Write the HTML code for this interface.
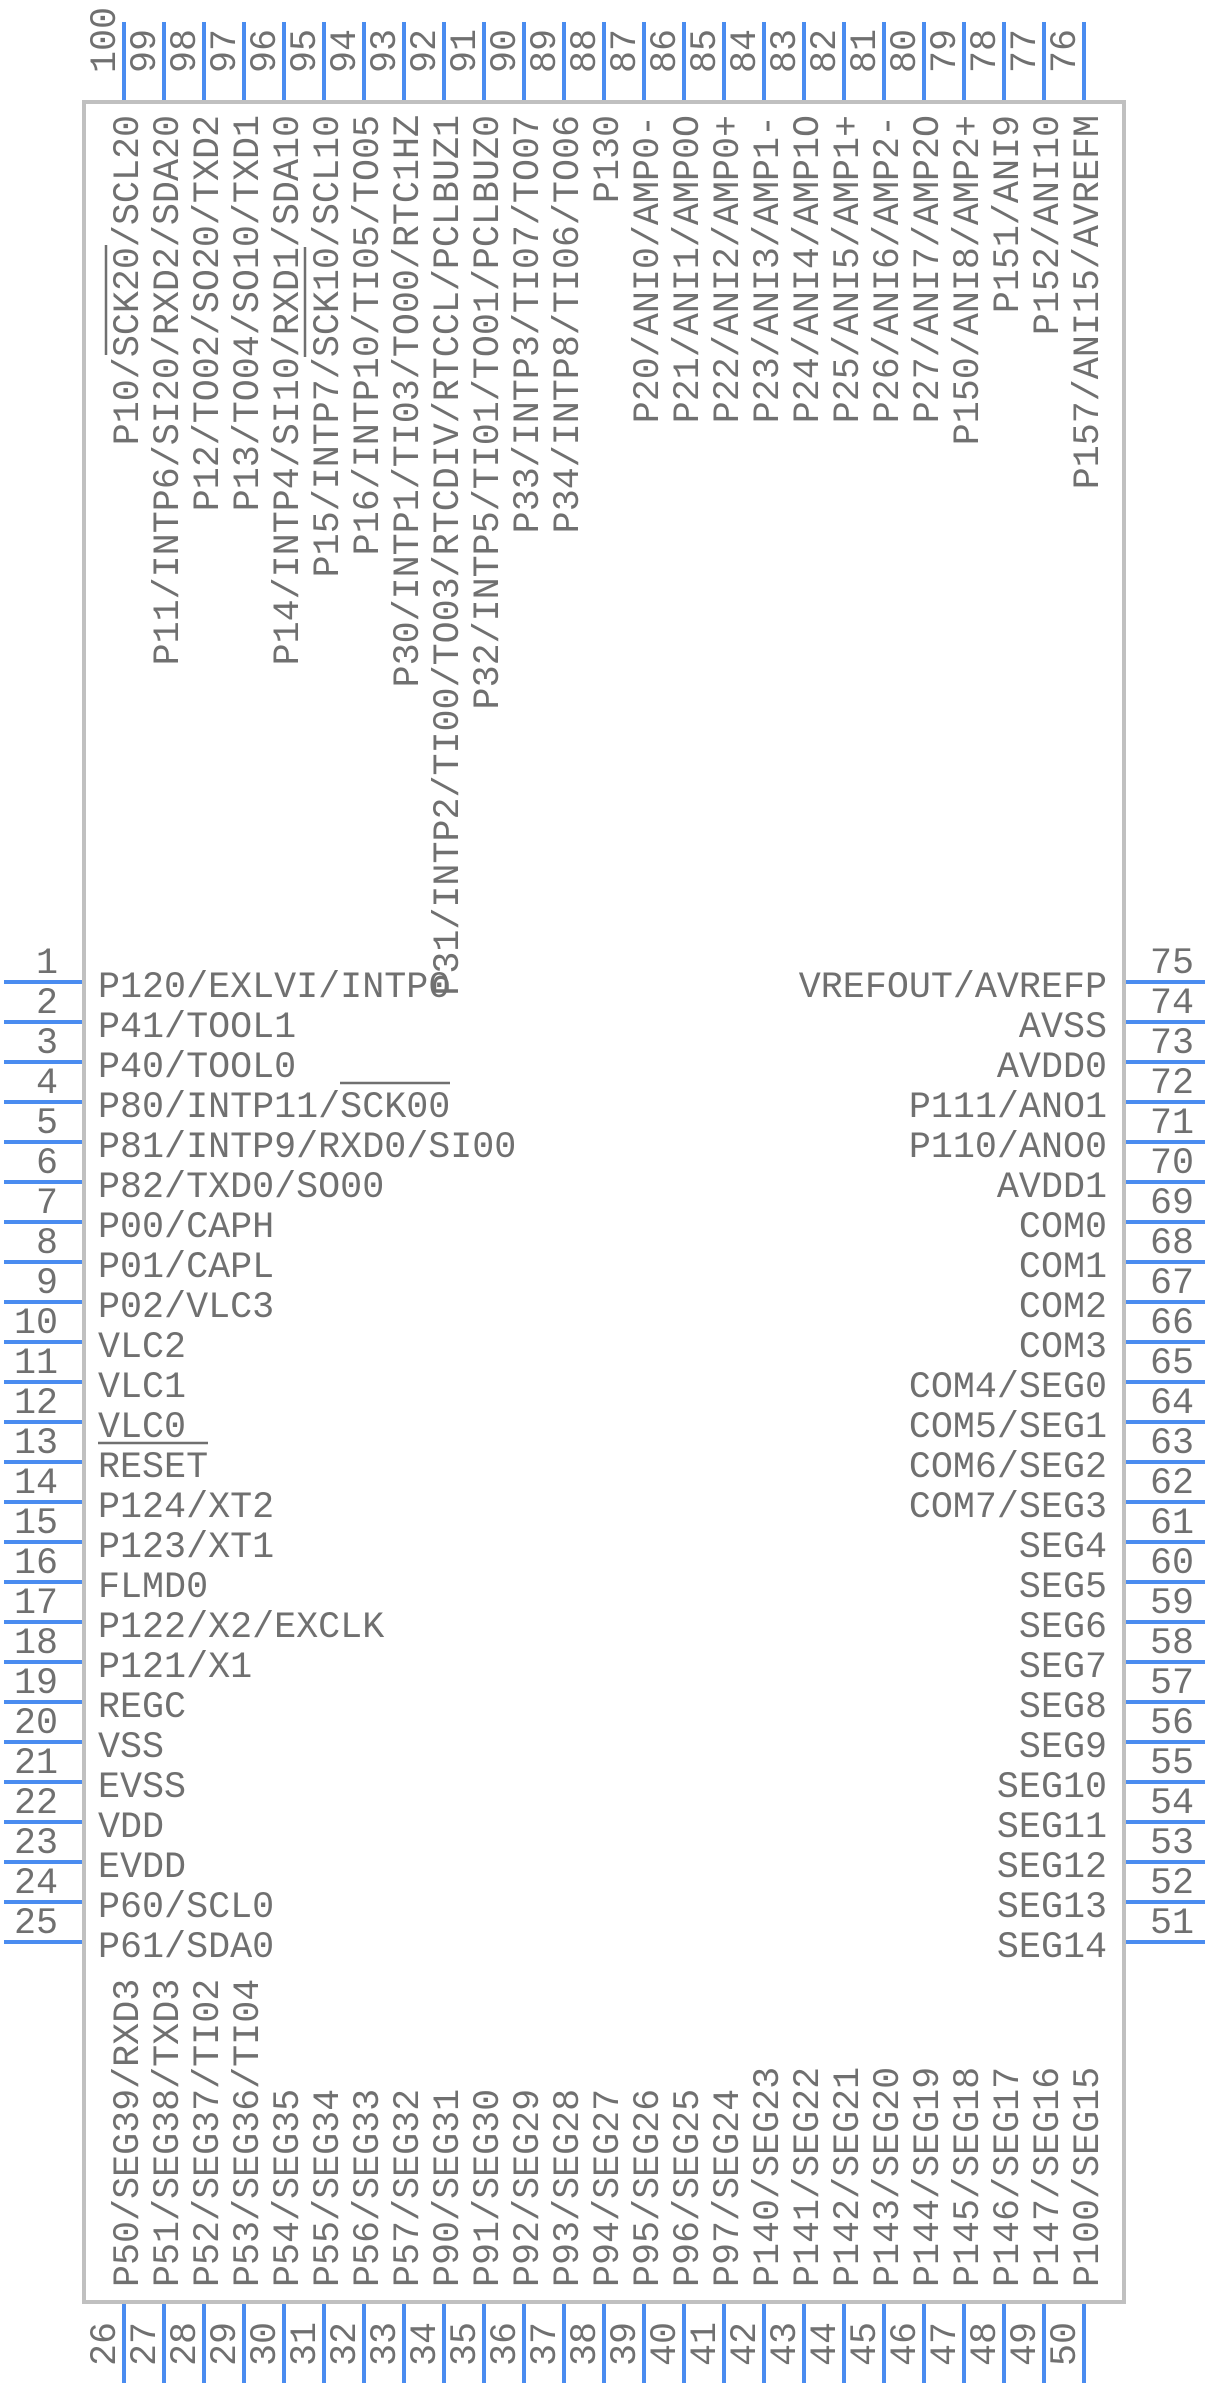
<!DOCTYPE html>
<html><head><meta charset="utf-8"><style>
html,body{margin:0;padding:0;background:#fff}
svg{display:block}
text{font-family:"Liberation Mono",monospace;font-size:36.7px;fill:#707070}
.e{text-anchor:end}
</style></head><body>
<svg width="1208" height="2386" viewBox="0 0 1208 2386" xmlns="http://www.w3.org/2000/svg">
<rect x="84" y="102" width="1040" height="2200" fill="none" stroke="#c0c0c0" stroke-width="4"/>
<g stroke="#4a8cf0" stroke-width="4" fill="none">
<path d="M4 982H82M4 1022H82M4 1062H82M4 1102H82M4 1142H82M4 1182H82M4 1222H82M4 1262H82M4 1302H82M4 1342H82M4 1382H82M4 1422H82M4 1462H82M4 1502H82M4 1542H82M4 1582H82M4 1622H82M4 1662H82M4 1702H82M4 1742H82M4 1782H82M4 1822H82M4 1862H82M4 1902H82M4 1942H82"/>
<path d="M1126 982H1205M1126 1022H1205M1126 1062H1205M1126 1102H1205M1126 1142H1205M1126 1182H1205M1126 1222H1205M1126 1262H1205M1126 1302H1205M1126 1342H1205M1126 1382H1205M1126 1422H1205M1126 1462H1205M1126 1502H1205M1126 1542H1205M1126 1582H1205M1126 1622H1205M1126 1662H1205M1126 1702H1205M1126 1742H1205M1126 1782H1205M1126 1822H1205M1126 1862H1205M1126 1902H1205M1126 1942H1205"/>
<path d="M124 22V100M164 22V100M204 22V100M244 22V100M284 22V100M324 22V100M364 22V100M404 22V100M444 22V100M484 22V100M524 22V100M564 22V100M604 22V100M644 22V100M684 22V100M724 22V100M764 22V100M804 22V100M844 22V100M884 22V100M924 22V100M964 22V100M1004 22V100M1044 22V100M1084 22V100"/>
<path d="M124 2304V2383M164 2304V2383M204 2304V2383M244 2304V2383M284 2304V2383M324 2304V2383M364 2304V2383M404 2304V2383M444 2304V2383M484 2304V2383M524 2304V2383M564 2304V2383M604 2304V2383M644 2304V2383M684 2304V2383M724 2304V2383M764 2304V2383M804 2304V2383M844 2304V2383M884 2304V2383M924 2304V2383M964 2304V2383M1004 2304V2383M1044 2304V2383M1084 2304V2383"/>
</g>
<g stroke="#707070" stroke-width="2.5">
<path d="M340 1083H450M98 1443H208M106 245V355M305 247V357"/>
</g>
<!-- left labels -->
<text x="98" y="997">P120/EXLVI/INTP0</text>
<text x="98" y="1037">P41/TOOL1</text>
<text x="98" y="1077">P40/TOOL0</text>
<text x="98" y="1117">P80/INTP11/SCK00</text>
<text x="98" y="1157">P81/INTP9/RXD0/SI00</text>
<text x="98" y="1197">P82/TXD0/SO00</text>
<text x="98" y="1237">P00/CAPH</text>
<text x="98" y="1277">P01/CAPL</text>
<text x="98" y="1317">P02/VLC3</text>
<text x="98" y="1357">VLC2</text>
<text x="98" y="1397">VLC1</text>
<text x="98" y="1437">VLC0</text>
<text x="98" y="1477">RESET</text>
<text x="98" y="1517">P124/XT2</text>
<text x="98" y="1557">P123/XT1</text>
<text x="98" y="1597">FLMD0</text>
<text x="98" y="1637">P122/X2/EXCLK</text>
<text x="98" y="1677">P121/X1</text>
<text x="98" y="1717">REGC</text>
<text x="98" y="1757">VSS</text>
<text x="98" y="1797">EVSS</text>
<text x="98" y="1837">VDD</text>
<text x="98" y="1877">EVDD</text>
<text x="98" y="1917">P60/SCL0</text>
<text x="98" y="1957">P61/SDA0</text>
<g class="e">
<text class="e" x="58" y="973">1</text><text class="e" x="58" y="1013">2</text><text class="e" x="58" y="1053">3</text><text class="e" x="58" y="1093">4</text><text class="e" x="58" y="1133">5</text><text class="e" x="58" y="1173">6</text><text class="e" x="58" y="1213">7</text><text class="e" x="58" y="1253">8</text><text class="e" x="58" y="1293">9</text><text class="e" x="58" y="1333">10</text><text class="e" x="58" y="1373">11</text><text class="e" x="58" y="1413">12</text><text class="e" x="58" y="1453">13</text><text class="e" x="58" y="1493">14</text><text class="e" x="58" y="1533">15</text><text class="e" x="58" y="1573">16</text><text class="e" x="58" y="1613">17</text><text class="e" x="58" y="1653">18</text><text class="e" x="58" y="1693">19</text><text class="e" x="58" y="1733">20</text><text class="e" x="58" y="1773">21</text><text class="e" x="58" y="1813">22</text><text class="e" x="58" y="1853">23</text><text class="e" x="58" y="1893">24</text><text class="e" x="58" y="1933">25</text>
</g>
<!-- right labels -->
<text class="e" x="1107" y="997">VREFOUT/AVREFP</text>
<text class="e" x="1107" y="1037">AVSS</text>
<text class="e" x="1107" y="1077">AVDD0</text>
<text class="e" x="1107" y="1117">P111/ANO1</text>
<text class="e" x="1107" y="1157">P110/ANO0</text>
<text class="e" x="1107" y="1197">AVDD1</text>
<text class="e" x="1107" y="1237">COM0</text>
<text class="e" x="1107" y="1277">COM1</text>
<text class="e" x="1107" y="1317">COM2</text>
<text class="e" x="1107" y="1357">COM3</text>
<text class="e" x="1107" y="1397">COM4/SEG0</text>
<text class="e" x="1107" y="1437">COM5/SEG1</text>
<text class="e" x="1107" y="1477">COM6/SEG2</text>
<text class="e" x="1107" y="1517">COM7/SEG3</text>
<text class="e" x="1107" y="1557">SEG4</text>
<text class="e" x="1107" y="1597">SEG5</text>
<text class="e" x="1107" y="1637">SEG6</text>
<text class="e" x="1107" y="1677">SEG7</text>
<text class="e" x="1107" y="1717">SEG8</text>
<text class="e" x="1107" y="1757">SEG9</text>
<text class="e" x="1107" y="1797">SEG10</text>
<text class="e" x="1107" y="1837">SEG11</text>
<text class="e" x="1107" y="1877">SEG12</text>
<text class="e" x="1107" y="1917">SEG13</text>
<text class="e" x="1107" y="1957">SEG14</text>
<text x="1150" y="973">75</text><text x="1150" y="1013">74</text><text x="1150" y="1053">73</text><text x="1150" y="1093">72</text><text x="1150" y="1133">71</text><text x="1150" y="1173">70</text><text x="1150" y="1213">69</text><text x="1150" y="1253">68</text><text x="1150" y="1293">67</text><text x="1150" y="1333">66</text><text x="1150" y="1373">65</text><text x="1150" y="1413">64</text><text x="1150" y="1453">63</text><text x="1150" y="1493">62</text><text x="1150" y="1533">61</text><text x="1150" y="1573">60</text><text x="1150" y="1613">59</text><text x="1150" y="1653">58</text><text x="1150" y="1693">57</text><text x="1150" y="1733">56</text><text x="1150" y="1773">55</text><text x="1150" y="1813">54</text><text x="1150" y="1853">53</text><text x="1150" y="1893">52</text><text x="1150" y="1933">51</text>
<!-- top labels -->
<text class="e" transform="translate(138,115) rotate(-90)">P10/SCK20/SCL20</text>
<text class="e" transform="translate(178,115) rotate(-90)">P11/INTP6/SI20/RXD2/SDA20</text>
<text class="e" transform="translate(218,115) rotate(-90)">P12/TO02/SO20/TXD2</text>
<text class="e" transform="translate(258,115) rotate(-90)">P13/TO04/SO10/TXD1</text>
<text class="e" transform="translate(298,115) rotate(-90)">P14/INTP4/SI10/RXD1/SDA10</text>
<text class="e" transform="translate(338,115) rotate(-90)">P15/INTP7/SCK10/SCL10</text>
<text class="e" transform="translate(378,115) rotate(-90)">P16/INTP10/TI05/TO05</text>
<text class="e" transform="translate(418,115) rotate(-90)">P30/INTP1/TI03/TO00/RTC1HZ</text>
<text class="e" transform="translate(458,115) rotate(-90)">P31/INTP2/TI00/TO03/RTCDIV/RTCCL/PCLBUZ1</text>
<text class="e" transform="translate(498,115) rotate(-90)">P32/INTP5/TI01/TO01/PCLBUZ0</text>
<text class="e" transform="translate(538,115) rotate(-90)">P33/INTP3/TI07/TO07</text>
<text class="e" transform="translate(578,115) rotate(-90)">P34/INTP8/TI06/TO06</text>
<text class="e" transform="translate(618,115) rotate(-90)">P130</text>
<text class="e" transform="translate(658,115) rotate(-90)">P20/ANI0/AMP0-</text>
<text class="e" transform="translate(698,115) rotate(-90)">P21/ANI1/AMP0O</text>
<text class="e" transform="translate(738,115) rotate(-90)">P22/ANI2/AMP0+</text>
<text class="e" transform="translate(778,115) rotate(-90)">P23/ANI3/AMP1-</text>
<text class="e" transform="translate(818,115) rotate(-90)">P24/ANI4/AMP1O</text>
<text class="e" transform="translate(858,115) rotate(-90)">P25/ANI5/AMP1+</text>
<text class="e" transform="translate(898,115) rotate(-90)">P26/ANI6/AMP2-</text>
<text class="e" transform="translate(938,115) rotate(-90)">P27/ANI7/AMP2O</text>
<text class="e" transform="translate(978,115) rotate(-90)">P150/ANI8/AMP2+</text>
<text class="e" transform="translate(1018,115) rotate(-90)">P151/ANI9</text>
<text class="e" transform="translate(1058,115) rotate(-90)">P152/ANI10</text>
<text class="e" transform="translate(1098,115) rotate(-90)">P157/ANI15/AVREFM</text>
<text transform="translate(115,73) rotate(-90)">100</text>
<text transform="translate(155,73) rotate(-90)">99</text>
<text transform="translate(195,73) rotate(-90)">98</text>
<text transform="translate(235,73) rotate(-90)">97</text>
<text transform="translate(275,73) rotate(-90)">96</text>
<text transform="translate(315,73) rotate(-90)">95</text>
<text transform="translate(355,73) rotate(-90)">94</text>
<text transform="translate(395,73) rotate(-90)">93</text>
<text transform="translate(435,73) rotate(-90)">92</text>
<text transform="translate(475,73) rotate(-90)">91</text>
<text transform="translate(515,73) rotate(-90)">90</text>
<text transform="translate(555,73) rotate(-90)">89</text>
<text transform="translate(595,73) rotate(-90)">88</text>
<text transform="translate(635,73) rotate(-90)">87</text>
<text transform="translate(675,73) rotate(-90)">86</text>
<text transform="translate(715,73) rotate(-90)">85</text>
<text transform="translate(755,73) rotate(-90)">84</text>
<text transform="translate(795,73) rotate(-90)">83</text>
<text transform="translate(835,73) rotate(-90)">82</text>
<text transform="translate(875,73) rotate(-90)">81</text>
<text transform="translate(915,73) rotate(-90)">80</text>
<text transform="translate(955,73) rotate(-90)">79</text>
<text transform="translate(995,73) rotate(-90)">78</text>
<text transform="translate(1035,73) rotate(-90)">77</text>
<text transform="translate(1075,73) rotate(-90)">76</text>
<!-- bottom labels -->
<text transform="translate(138,2287) rotate(-90)">P50/SEG39/RXD3</text>
<text transform="translate(178,2287) rotate(-90)">P51/SEG38/TXD3</text>
<text transform="translate(218,2287) rotate(-90)">P52/SEG37/TI02</text>
<text transform="translate(258,2287) rotate(-90)">P53/SEG36/TI04</text>
<text transform="translate(298,2287) rotate(-90)">P54/SEG35</text>
<text transform="translate(338,2287) rotate(-90)">P55/SEG34</text>
<text transform="translate(378,2287) rotate(-90)">P56/SEG33</text>
<text transform="translate(418,2287) rotate(-90)">P57/SEG32</text>
<text transform="translate(458,2287) rotate(-90)">P90/SEG31</text>
<text transform="translate(498,2287) rotate(-90)">P91/SEG30</text>
<text transform="translate(538,2287) rotate(-90)">P92/SEG29</text>
<text transform="translate(578,2287) rotate(-90)">P93/SEG28</text>
<text transform="translate(618,2287) rotate(-90)">P94/SEG27</text>
<text transform="translate(658,2287) rotate(-90)">P95/SEG26</text>
<text transform="translate(698,2287) rotate(-90)">P96/SEG25</text>
<text transform="translate(738,2287) rotate(-90)">P97/SEG24</text>
<text transform="translate(778,2287) rotate(-90)">P140/SEG23</text>
<text transform="translate(818,2287) rotate(-90)">P141/SEG22</text>
<text transform="translate(858,2287) rotate(-90)">P142/SEG21</text>
<text transform="translate(898,2287) rotate(-90)">P143/SEG20</text>
<text transform="translate(938,2287) rotate(-90)">P144/SEG19</text>
<text transform="translate(978,2287) rotate(-90)">P145/SEG18</text>
<text transform="translate(1018,2287) rotate(-90)">P146/SEG17</text>
<text transform="translate(1058,2287) rotate(-90)">P147/SEG16</text>
<text transform="translate(1098,2287) rotate(-90)">P100/SEG15</text>
<text transform="translate(115,2366) rotate(-90)">26</text>
<text transform="translate(155,2366) rotate(-90)">27</text>
<text transform="translate(195,2366) rotate(-90)">28</text>
<text transform="translate(235,2366) rotate(-90)">29</text>
<text transform="translate(275,2366) rotate(-90)">30</text>
<text transform="translate(315,2366) rotate(-90)">31</text>
<text transform="translate(355,2366) rotate(-90)">32</text>
<text transform="translate(395,2366) rotate(-90)">33</text>
<text transform="translate(435,2366) rotate(-90)">34</text>
<text transform="translate(475,2366) rotate(-90)">35</text>
<text transform="translate(515,2366) rotate(-90)">36</text>
<text transform="translate(555,2366) rotate(-90)">37</text>
<text transform="translate(595,2366) rotate(-90)">38</text>
<text transform="translate(635,2366) rotate(-90)">39</text>
<text transform="translate(675,2366) rotate(-90)">40</text>
<text transform="translate(715,2366) rotate(-90)">41</text>
<text transform="translate(755,2366) rotate(-90)">42</text>
<text transform="translate(795,2366) rotate(-90)">43</text>
<text transform="translate(835,2366) rotate(-90)">44</text>
<text transform="translate(875,2366) rotate(-90)">45</text>
<text transform="translate(915,2366) rotate(-90)">46</text>
<text transform="translate(955,2366) rotate(-90)">47</text>
<text transform="translate(995,2366) rotate(-90)">48</text>
<text transform="translate(1035,2366) rotate(-90)">49</text>
<text transform="translate(1075,2366) rotate(-90)">50</text>
</svg>
</body></html>
